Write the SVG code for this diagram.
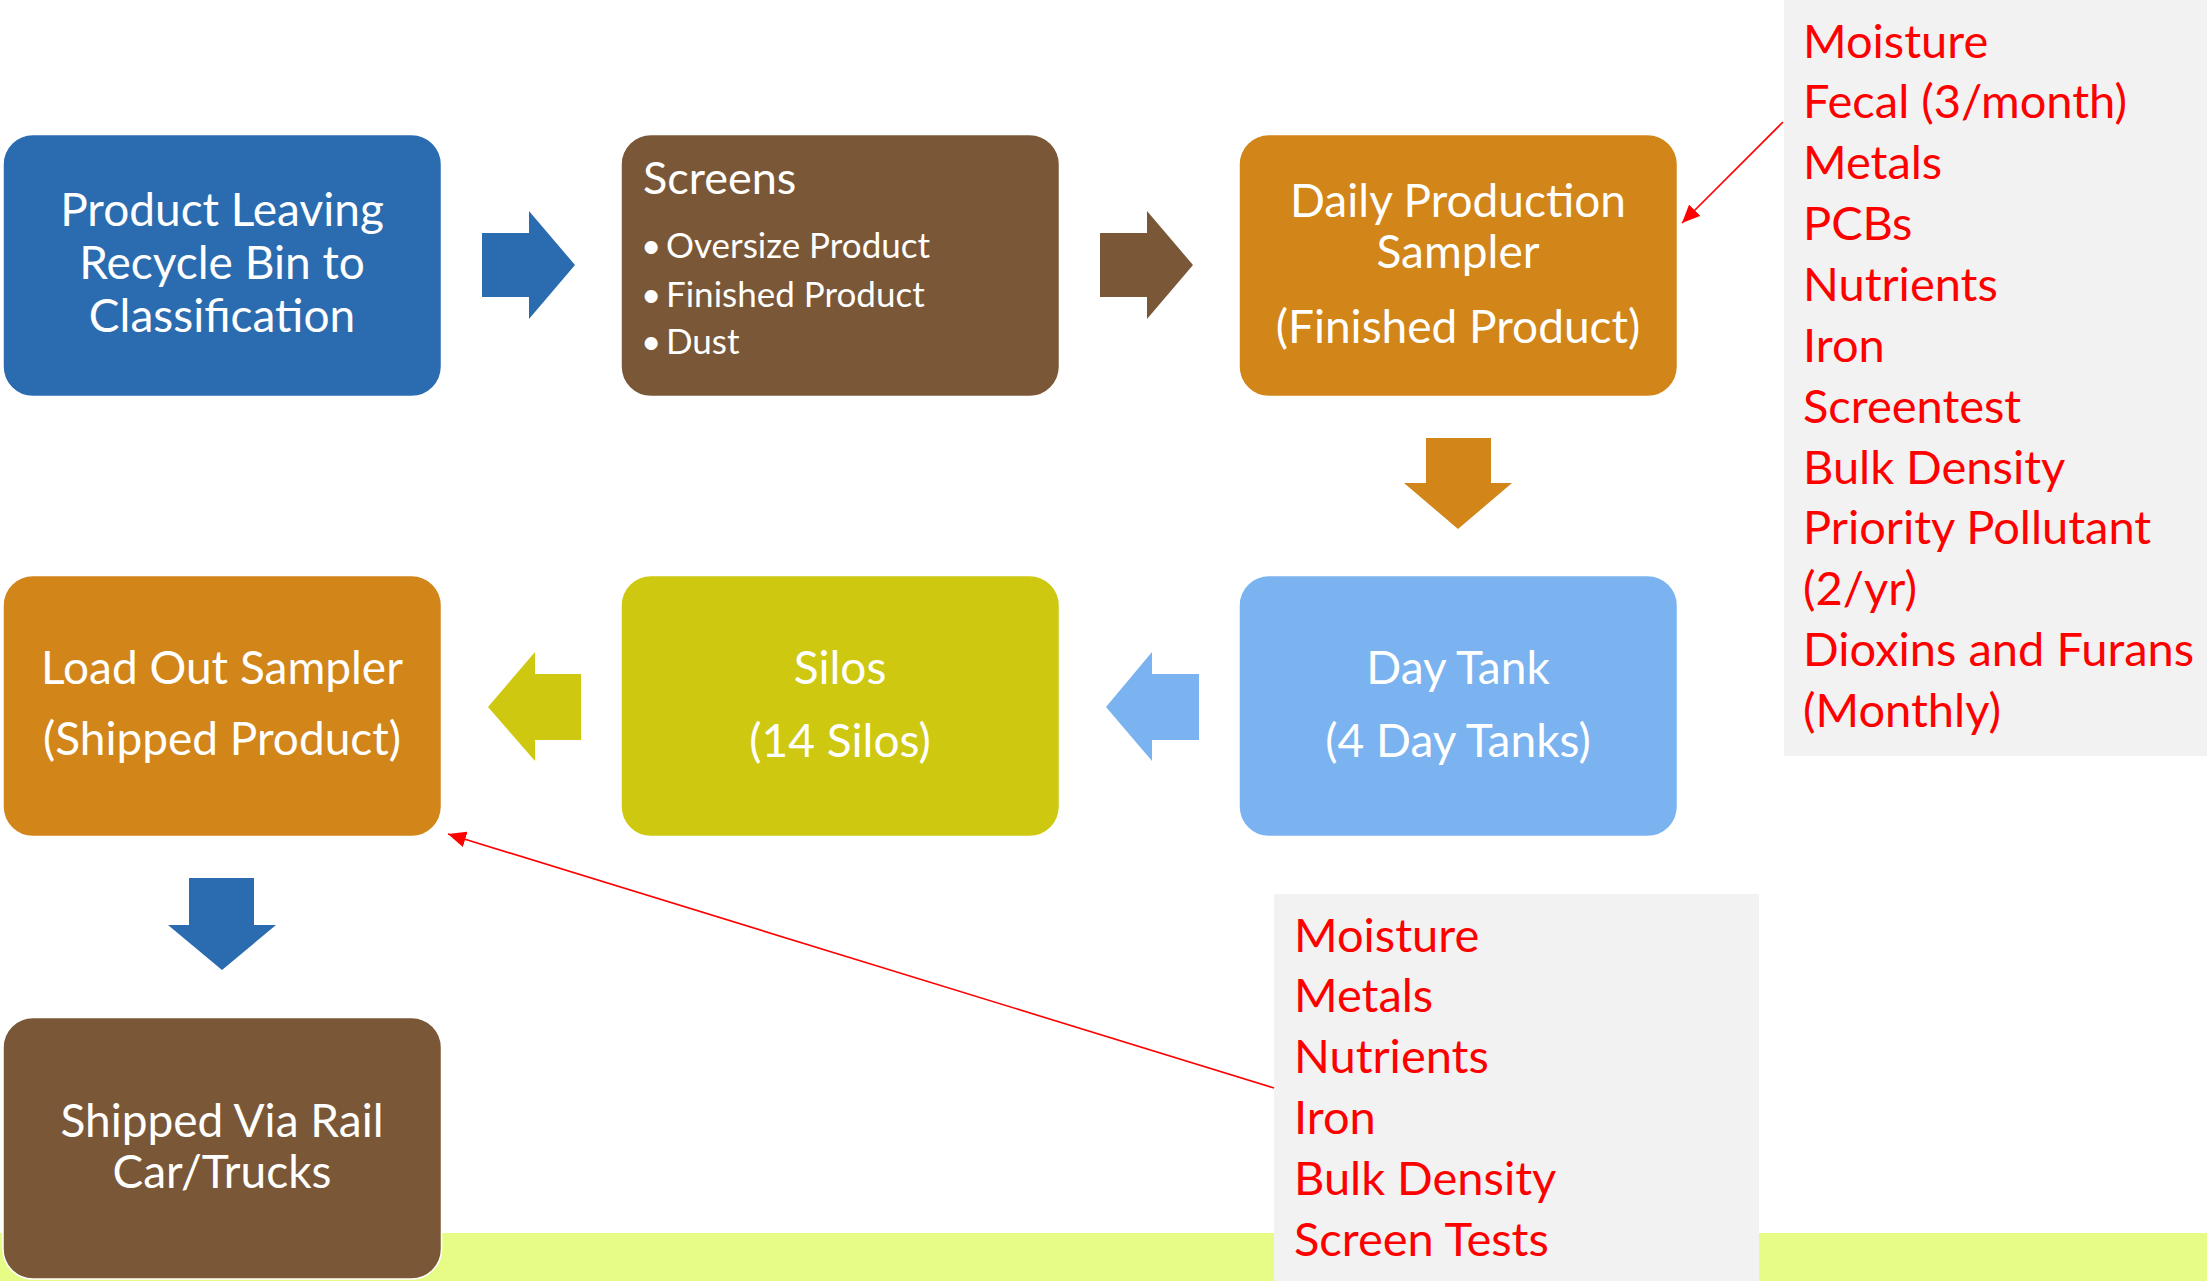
<svg xmlns="http://www.w3.org/2000/svg" width="2207" height="1281" viewBox="0 0 2207 1281">
  <style>
    .box { stroke: #ffffff; stroke-width: 1.5; }
    .lbl { font-family: Lato, "Open Sans", "Liberation Sans", sans-serif; font-size: 46px; fill: #ffffff; text-anchor: middle; }
    .hdr { font-family: Lato, "Open Sans", "Liberation Sans", sans-serif; font-size: 45px; fill: #ffffff; }
    .bul { font-family: Lato, "Open Sans", "Liberation Sans", sans-serif; font-size: 35px; fill: #ffffff; }
    .red { font-family: Lato, "Open Sans", "Liberation Sans", sans-serif; font-size: 47px; fill: #ff0000; }
    .panel { fill: #f2f2f2; }
    .note { stroke: #ff0000; stroke-width: 1.6; fill: none; }
  </style>
  <defs>
    <marker id="redhead" markerUnits="userSpaceOnUse" markerWidth="20" markerHeight="16" refX="18" refY="8" orient="auto">
      <path d="M0,0 L18,8 L0,16 z" fill="#ff0000"/>
    </marker>
  </defs>

  <rect x="0" y="0" width="2207" height="1281" fill="#ffffff"/>
  <rect x="0" y="1233" width="2207" height="48" fill="#e7fc87"/>

  <g id="panel-daily-tests">
    <rect class="panel" x="1784" y="0" width="423" height="756"/>
    <text class="red" x="1803" y="57.5">Moisture</text>
    <text class="red" x="1803" y="118.4">Fecal (3/month)</text>
    <text class="red" x="1803" y="179.2">Metals</text>
    <text class="red" x="1803" y="240.1">PCBs</text>
    <text class="red" x="1803" y="300.9">Nutrients</text>
    <text class="red" x="1803" y="361.8">Iron</text>
    <text class="red" x="1803" y="422.7">Screentest</text>
    <text class="red" x="1803" y="483.5">Bulk Density</text>
    <text class="red" x="1803" y="544.4">Priority Pollutant</text>
    <text class="red" x="1803" y="605.2">(2/yr)</text>
    <text class="red" x="1803" y="666.1">Dioxins and Furans</text>
    <text class="red" x="1803" y="727">(Monthly)</text>
  </g>

  <g id="panel-loadout-tests">
    <rect class="panel" x="1274" y="894" width="485" height="387"/>
    <text class="red" x="1294" y="951.5">Moisture</text>
    <text class="red" x="1294" y="1012.3">Metals</text>
    <text class="red" x="1294" y="1073.1">Nutrients</text>
    <text class="red" x="1294" y="1133.9">Iron</text>
    <text class="red" x="1294" y="1194.7">Bulk Density</text>
    <text class="red" x="1294" y="1255.5">Screen Tests</text>
  </g>

  <g id="node-product-leaving">
    <rect class="box" x="3" y="134.5" width="438.5" height="262" rx="30" fill="#2b6cb0"/>
    <text class="lbl" x="222" y="226">Product Leaving</text>
    <text class="lbl" x="222" y="279">Recycle Bin to</text>
    <text class="lbl" x="222" y="331.5">Classification</text>
  </g>

  <g id="node-screens">
    <rect class="box" x="621" y="134.5" width="438.5" height="262" rx="30" fill="#7a5837"/>
    <text class="hdr" x="643" y="194">Screens</text>
    <text class="bul" x="641" y="258">•</text>
    <text class="bul" x="666" y="258">Oversize Product</text>
    <text class="bul" x="641" y="306.5">•</text>
    <text class="bul" x="666" y="306.5">Finished Product</text>
    <text class="bul" x="641" y="354">•</text>
    <text class="bul" x="666" y="354">Dust</text>
  </g>

  <g id="node-daily-sampler">
    <rect class="box" x="1239" y="134.5" width="438.5" height="262" rx="30" fill="#d28518"/>
    <text class="lbl" x="1458" y="217">Daily Production</text>
    <text class="lbl" x="1458" y="268">Sampler</text>
    <text class="lbl" x="1458" y="343">(Finished Product)</text>
  </g>

  <g id="node-day-tank">
    <rect class="box" x="1239" y="575.5" width="438.5" height="261" rx="30" fill="#7ab3ef"/>
    <text class="lbl" x="1458" y="684">Day Tank</text>
    <text class="lbl" x="1458" y="757">(4 Day Tanks)</text>
  </g>

  <g id="node-silos">
    <rect class="box" x="621" y="575.5" width="438.5" height="261" rx="30" fill="#cec811"/>
    <text class="lbl" x="840" y="684">Silos</text>
    <text class="lbl" x="840" y="757">(14 Silos)</text>
  </g>

  <g id="node-loadout-sampler">
    <rect class="box" x="3" y="575.5" width="438.5" height="261" rx="30" fill="#d28518"/>
    <text class="lbl" x="222" y="684">Load Out Sampler</text>
    <text class="lbl" x="222" y="755">(Shipped Product)</text>
  </g>

  <g id="node-shipped">
    <rect class="box" x="3" y="1017.5" width="438.5" height="261.5" rx="30" fill="#7a5837"/>
    <text class="lbl" x="222" y="1137">Shipped Via Rail</text>
    <text class="lbl" x="222" y="1188">Car/Trucks</text>
  </g>

  <g id="connectors">
    <polygon points="482,233 529,233 529,211 575,265 529,319 529,297 482,297" fill="#2b6cb0"/>
    <polygon points="1100,233 1147,233 1147,211 1193,265 1147,319 1147,297 1100,297" fill="#7a5837"/>
    <polygon points="1426,438 1491,438 1491,483 1512,483 1458,529 1404,483 1426,483" fill="#d28518"/>
    <polygon points="1199,674 1152,674 1152,652 1106,707 1152,761 1152,740 1199,740" fill="#7ab3ef"/>
    <polygon points="581,674 535,674 535,652 488,707 535,761 535,740 581,740" fill="#cec811"/>
    <polygon points="189,878 254,878 254,925 276,925 222,970 168,925 189,925" fill="#2b6cb0"/>
    <line class="note" x1="1783" y1="122" x2="1682" y2="223" marker-end="url(#redhead)"/>
    <line class="note" x1="1274" y1="1088" x2="448" y2="834" marker-end="url(#redhead)"/>
  </g>
</svg>
